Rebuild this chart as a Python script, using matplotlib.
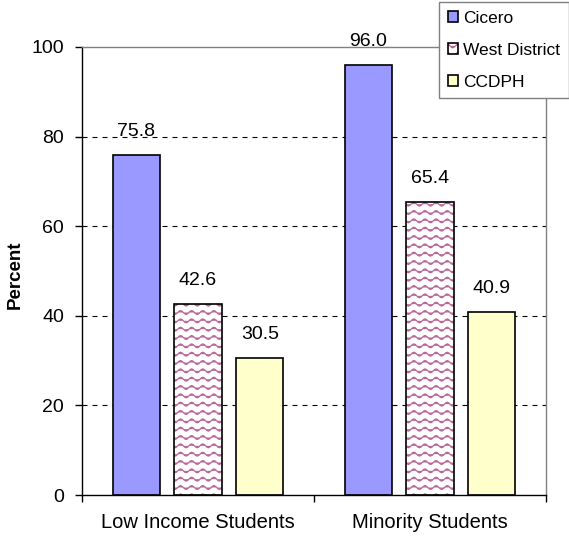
import warnings
import numpy as np
import matplotlib
matplotlib.use('Agg')
import matplotlib.pyplot as plt
import matplotlib.hatch as mhatch
from matplotlib.path import Path
from matplotlib.patches import Patch

warnings.filterwarnings('ignore')

# ---- data ----
categories = ['Low Income Students', 'Minority Students']
series_names = ['Cicero', 'West District', 'CCDPH']
cicero = [75.8, 96.0]
west_district = [42.6, 65.4]
ccdph = [30.5, 40.9]
y_ticks = [0, 20, 40, 60, 80, 100]

plt.rcParams['font.family'] = ['Liberation Sans', 'DejaVu Sans']
plt.rcParams['hatch.linewidth'] = 0.9


# волнистая штриховка как в Excel ("w")
class WaveHatch(mhatch.HatchPatternBase):
    def __init__(self, hatch, density):
        n = hatch.count('w')
        self.num_rows = int(n * density * 2)
        self.num_waves = int(n * density * 1.6)
        self.per_row = 8 * self.num_waves + 1
        self.num_vertices = self.num_rows * self.per_row

    def set_vertices_and_codes(self, vertices, codes):
        step = self.per_row
        t = np.linspace(0, 1, step)
        amp = 0.23 / self.num_rows
        wave = amp * np.sin(2 * np.pi * self.num_waves * t)
        for i in range(self.num_rows):
            y0 = (i + 0.5) / self.num_rows
            vertices[i * step:(i + 1) * step, 0] = t
            vertices[i * step:(i + 1) * step, 1] = y0 + wave
            codes[i * step] = Path.MOVETO
            codes[i * step + 1:(i + 1) * step] = Path.LINETO


mhatch._hatch_types.append(WaveHatch)

fig = plt.figure(figsize=(5.69, 5.38), dpi=100)
ax = fig.add_axes([82 / 569, 43 / 538, 464 / 569, 448 / 538])

x = np.arange(len(categories))
offset = 0.267
width = 0.203

b1 = ax.bar(x - offset, cicero, width, color='#9999FF', edgecolor='black',
            linewidth=1.2, zorder=2)
b2 = ax.bar(x, west_district, width, color='white', edgecolor='#B8689A',
            hatch='w', linewidth=0, zorder=2)
ax.bar(x, west_district, width, fill=False, edgecolor='black',
       linewidth=1.2, zorder=3)
b3 = ax.bar(x + offset, ccdph, width, color='#FFFFCC', edgecolor='black',
            linewidth=1.2, zorder=2)

for bars, vals in [(b1, cicero), (b2, west_district), (b3, ccdph)]:
    for rect, v in zip(bars, vals):
        ax.annotate(f'{v:.1f}', (rect.get_x() + rect.get_width() / 2, v),
                    xytext=(0, 17), textcoords='offset points',
                    ha='center', va='center', fontsize=14)

ax.set_xlim(-0.5, len(categories) - 0.5)
ax.set_ylim(0, 100)
ax.set_yticks(y_ticks)
ax.tick_params(axis='y', direction='out', length=5, width=1, pad=8, labelsize=14)

ax.set_xticks(np.arange(len(categories) + 1) - 0.5, [''] * (len(categories) + 1))
ax.set_xticks(x, categories, minor=True)
ax.tick_params(axis='x', which='major', direction='out', length=5, width=1)
ax.tick_params(axis='x', which='minor', length=0, pad=13, labelsize=14.5)

ax.set_axisbelow(True)
ax.yaxis.grid(True, color='black', linestyle=(0, (4.5, 4.5)), linewidth=0.8)
gl = ax.yaxis.get_gridlines()
gl[0].set_visible(False)
gl[-1].set_visible(False)

for side in ['top', 'right']:
    ax.spines[side].set_color('#808080')
    ax.spines[side].set_linewidth(1.0)
for side in ['left', 'bottom']:
    ax.spines[side].set_color('black')
    ax.spines[side].set_linewidth(1.0)

fig.text(15 / 569, 1 - 275 / 538, 'Percent', rotation=90, ha='center',
         va='center', fontsize=13.5, fontweight='bold')

outline = Patch(facecolor='none', edgecolor='black', linewidth=1.2)
leg = fig.legend([b1[0], (b2[0], outline), b3[0]], series_names,
                 loc='upper right', bbox_to_anchor=(1.0, 1 - 2 / 538),
                 bbox_transform=fig.transFigure, fancybox=False, shadow=False,
                 fontsize=12.5, handlelength=0.6, handleheight=0.6,
                 handletextpad=0.3, labelspacing=0.98, borderpad=0.5,
                 borderaxespad=0, framealpha=1)
leg.get_frame().set_edgecolor('#808080')
leg.get_frame().set_linewidth(1.0)

plt.savefig('out.png', dpi=100)
